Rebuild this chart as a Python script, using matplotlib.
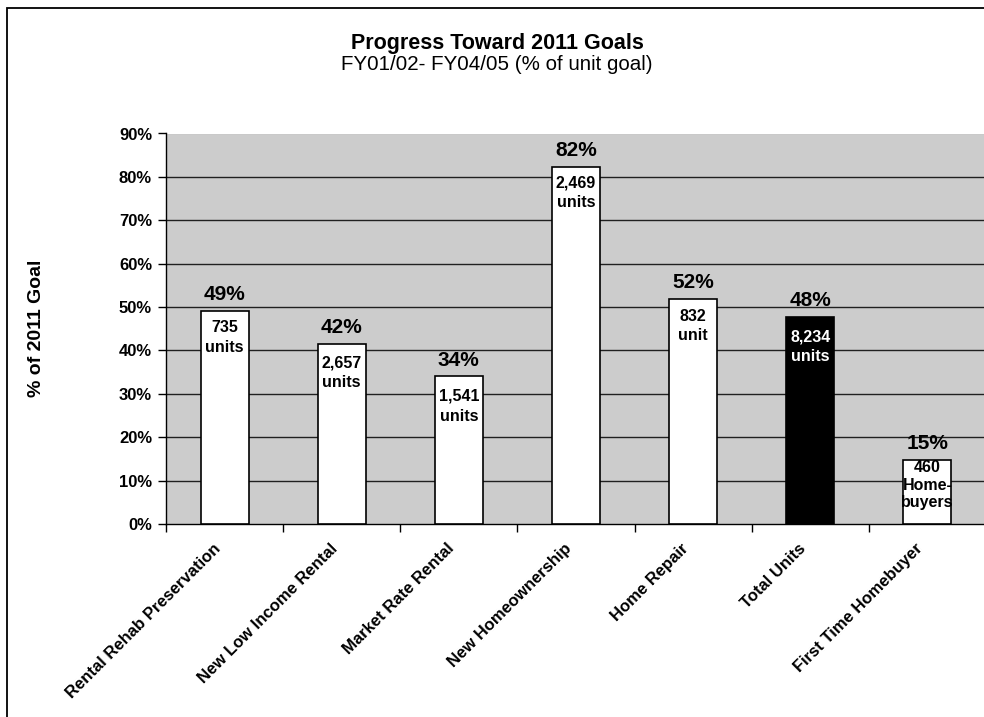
import matplotlib
matplotlib.use('Agg')
import matplotlib.pyplot as plt
from matplotlib.patches import Rectangle
from matplotlib.transforms import ScaledTranslation

# ---- data ----
categories = ["Rental Rehab Preservation", "New Low Income Rental", "Market Rate Rental",
              "New Homeownership", "Home Repair", "Total Units", "First Time Homebuyer"]
pct_values = [49.0, 41.5, 34.0, 82.2, 51.9, 47.8, 14.8]
pct_labels = ["49%", "42%", "34%", "82%", "52%", "48%", "15%"]
unit_labels = ["735\nunits", "2,657\nunits", "1,541\nunits", "2,469\nunits",
               "832\nunit", "8,234\nunits", "460\nHome-\nbuyers"]
ytick_values = [0, 10, 20, 30, 40, 50, 60, 70, 80, 90]
ytick_labels = ["0%", "10%", "20%", "30%", "40%", "50%", "60%", "70%", "80%", "90%"]

# ---- styles ----
bar_colors = ["white", "white", "white", "white", "white", "black", "white"]
inner_text_colors = ["black", "black", "black", "black", "black", "white", "black"]
inner_offsets_pt = [-6, -8, -9, -6, -7, -9, -0.5]
inner_linespacing = [1.4, 1.4, 1.4, 1.4, 1.4, 1.4, 1.2]

plt.rcParams['font.family'] = ['Liberation Sans', 'DejaVu Sans']

W, H = 984, 717
fig = plt.figure(figsize=(W / 100, H / 100), dpi=100)
fig.patch.set_facecolor('white')

# outer chart border (extends past right/bottom edges)
fig.add_artist(Rectangle((7 / W, -0.05), 1.1, 1 - 8 / H + 0.05, transform=fig.transFigure,
                         fill=False, edgecolor='black', linewidth=1.3))

ax = fig.add_axes([166 / W, 1 - 524 / H, (986 - 166) / W, (524 - 133.5) / H])
ax.set_facecolor('#CCCCCC')
ax.set_xlim(-0.5, len(categories) - 0.5)
ax.set_ylim(0, 90)

x = list(range(len(categories)))
ax.bar(x, pct_values, width=0.41, color=bar_colors, edgecolor='black', linewidth=1.2, zorder=3)

# gridlines
for v in ytick_values[1:-1]:
    ax.axhline(v, color='#202020', linewidth=1.0, zorder=1)

for s in ['top', 'right']:
    ax.spines[s].set_visible(False)
ax.axhline(90, color='#999999', linewidth=1.5, zorder=1)
ax.spines['left'].set_linewidth(1.0)
ax.spines['bottom'].set_linewidth(1.0)

ax.set_yticks(ytick_values)
ax.set_yticklabels(ytick_labels, fontsize=12, fontweight='bold')
ax.tick_params(axis='y', length=6, width=1, direction='out', pad=4)

ax.set_xticks(x)
ax.set_xticklabels(categories, rotation=45, ha='right', va='top', rotation_mode='anchor',
                   fontsize=12, fontweight='bold')
ax.tick_params(axis='x', which='major', length=0, pad=10)
shift = ScaledTranslation(-12 / 100, -3 / 100, fig.dpi_scale_trans)
for lbl in ax.get_xticklabels():
    lbl.set_transform(lbl.get_transform() + shift)
ax.set_xticks([i - 0.5 for i in range(len(categories) + 1)], minor=True)
ax.tick_params(axis='x', which='minor', length=6, width=1, direction='out')

# labels
for i, (v, pl, ul) in enumerate(zip(pct_values, pct_labels, unit_labels)):
    ax.annotate(pl, (i, v), xytext=(0, 5), textcoords='offset points', ha='center', va='bottom',
                fontsize=15, fontweight='bold', zorder=5)
    ax.annotate(ul, (i, v), xytext=(0, inner_offsets_pt[i]), textcoords='offset points',
                ha='center', va='top', fontsize=11.5, fontweight='bold',
                color=inner_text_colors[i], linespacing=inner_linespacing[i], zorder=5)

ax.set_ylabel("% of 2011 Goal", fontsize=14, fontweight='bold')
ax.yaxis.set_label_coords((45 - 166) / (986 - 166), 0.5)

fig.text(497 / W, 1 - 44 / H, "Progress Toward 2011 Goals", ha='center', va='center',
         fontsize=15.5, fontweight='bold')
fig.text(497 / W, 1 - 64 / H, "FY01/02- FY04/05 (% of unit goal)", ha='center', va='center',
         fontsize=14.8)

fig.savefig('out.png', dpi=100)
